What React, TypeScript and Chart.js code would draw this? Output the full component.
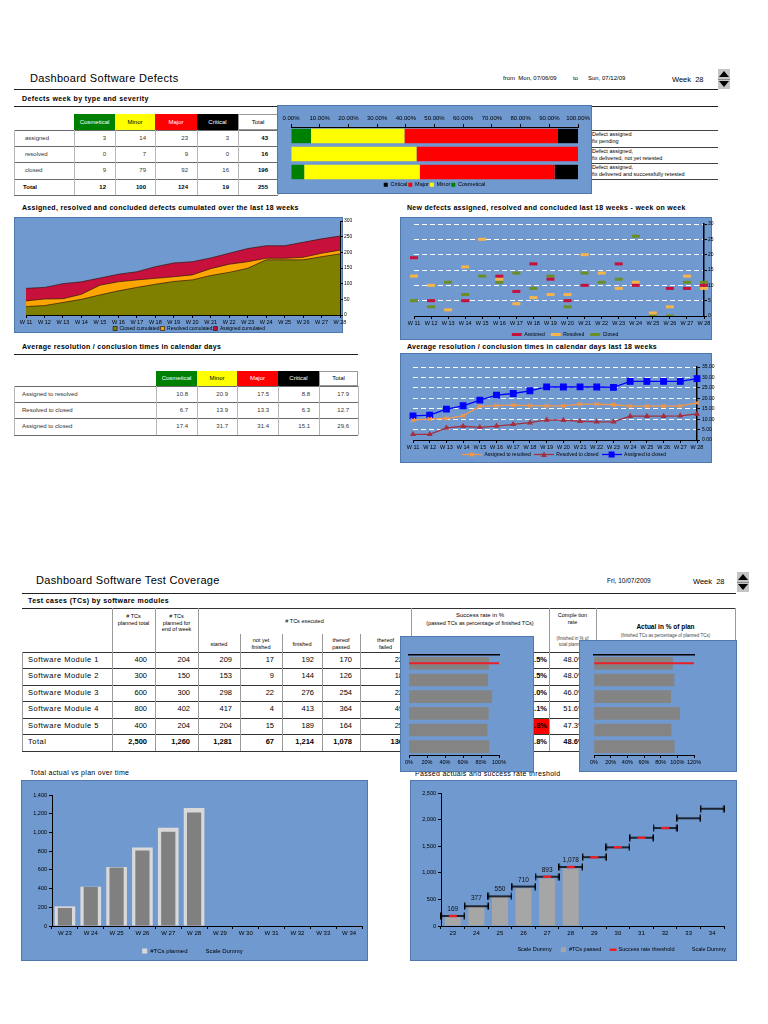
import React, { useEffect, useRef } from 'react';
import { Chart, registerables } from 'chart.js';

Chart.register(...registerables);

const FONT = "'Liberation Sans', Arial, Helvetica, sans-serif";
Chart.defaults.font.family = FONT;
Chart.defaults.color = '#000';

// ---------------- DATA ----------------
const severities = ['Cosmetical', 'Minor', 'Major', 'Critical'];
const severityColors = ['#008000', '#ffff00', '#ff0000', '#000000'];
const severityTextColors = ['#ffffff', '#000000', '#ffffff', '#ffffff'];
const defectStates = ['assigned', 'resolved', 'closed'];
const assignedBySeverity = [3, 14, 23, 3];
const resolvedBySeverity = [0, 7, 9, 0];
const closedBySeverity = [9, 79, 92, 16];
const stateDescriptions = [
  ['Defect assigned', 'fix pending'],
  ['Defect assigned,', 'fix delivered, not yet retested'],
  ['Defect assigned,', 'fix delivered and successfully retested'],
];

const weekLabels = ['W 11', 'W 12', 'W 13', 'W 14', 'W 15', 'W 16', 'W 17', 'W 18', 'W 19', 'W 20', 'W 21', 'W 22', 'W 23', 'W 24', 'W 25', 'W 26', 'W 27', 'W 28'];
const closedCumulated = [27, 30, 40, 50, 64, 77, 88, 98, 107, 112, 126, 136, 149, 176, 176, 176, 186, 195];
const resolvedCumulated = [45, 51, 52, 66, 95, 106, 112, 117, 122, 128, 148, 162, 170, 181, 181, 184, 197, 207];
const assignedCumulated = [85, 88, 100, 106, 118, 130, 138, 154, 166, 170, 182, 197, 212, 221, 221, 232, 243, 252];

const newAssigned = [19, 5, null, 5, null, 13, 8, 17, 12, 5, 10, null, 17, 10, null, 9, 9, 10];
const newResolved = [13, 10, 2, 16, 25, 12, 4, 6, 7, 7, 20, 14, 9, 11, 1, 3, 13, 9];
const newClosed = [5, 3, 11, 7, 13, 11, 14, 9, 13, 3, 14, 11, 12, 26, 0, 0, 11, 11];

const resolutionRows = ['Assigned to resolved', 'Resolved to closed', 'Assigned to closed'];
const resolutionColumns = ['Cosmetical', 'Minor', 'Major', 'Critical', 'Total'];
const resAssignedToResolved = [10.8, 20.9, 17.5, 8.8, 17.9];
const resResolvedToClosed = [6.7, 13.9, 13.3, 6.3, 12.7];
const resAssignedToClosed = [17.4, 31.7, 31.4, 15.1, 29.6];

const avgAssignedToResolved = [9.5, 10.1, 10.3, 11.6, 16.1, 16.5, 16.7, 16.5, 16.4, 16.4, 17.2, 17.2, 16.9, 16.2, 16.2, 16.2, 16.2, 17.8];
const avgResolvedToClosed = [2.7, 2.7, 5.8, 6.6, 6.1, 6.7, 7.5, 8.3, 9.6, 9.5, 9.0, 8.7, 8.7, 11.4, 11.4, 11.4, 11.6, 12.5];
const avgAssignedToClosed = [11.6, 11.9, 14.8, 16.4, 19.1, 21.5, 22.3, 23.6, 25.5, 25.4, 25.5, 25.4, 25.2, 28.1, 28.1, 28.1, 28.1, 29.4];

const moduleNames = ['Software Module 1', 'Software Module 2', 'Software Module 3', 'Software Module 4', 'Software Module 5', 'Total'];
const tcPlannedTotal = [400, 300, 600, 800, 400, 2500];
const tcPlannedEndOfWeek = [204, 150, 300, 402, 204, 1260];
const tcStarted = [209, 153, 298, 417, 204, 1281];
const tcNotFinished = [17, 9, 22, 4, 15, 67];
const tcFinished = [192, 144, 276, 413, 189, 1214];
const tcPassed = [170, 126, 254, 364, 164, 1078];
const tcFailed = [22, 18, 22, 49, 25, 136];
const successRate = [88.5, 87.5, 92.0, 88.1, 86.8, 88.8];
const completionRate = [48.0, 48.0, 46.0, 51.6, 47.3, 48.6];
const actualPctOfPlan = [94.1, 96.0, 92.0, 102.7, 92.6, 96.3];
const belowThresholdRow = [false, false, false, false, true, false];
const successAxisMax = 100;
const actualAxisMax = 120;

const planWeeks = ['W 23', 'W 24', 'W 25', 'W 26', 'W 27', 'W 28', 'W 29', 'W 30', 'W 31', 'W 32', 'W 33', 'W 34'];
const plannedCumulated = [210, 420, 630, 840, 1050, 1260, null, null, null, null, null, null];
const finishedCumulated = [193, 418, 625, 807, 1007, 1214, null, null, null, null, null, null];

const passWeeks = ['23', '24', '25', '26', '27', '28', '29', '30', '31', '32', '33', '34'];
const passedCumulated = [169, 377, 550, 710, 893, 1078, 0, 0, 0, 0, 0, 0];
const passTargetLevels = [188, 372, 558, 742, 926, 1110, 1294, 1478, 1660, 1842, 2025, 2205];
const thresholdMarks = [188, null, null, null, 926, 1110, 1294, 1478, 1660, 1842, null, null];

// ---------------- STYLE ----------------
const BLUE = '#7099cf';
const BLUE_BORDER = '#4f78ad';

const fmt = (v: number) => v.toLocaleString('en-US');
const sum = (a: number[]) => a.reduce((s, v) => s + v, 0);

function ChartCanvas({ x, y, w, h, make }: any) {
  const ref = useRef<HTMLCanvasElement | null>(null);
  useEffect(() => {
    if (!ref.current) return;
    const chart = new Chart(ref.current, make());
    return () => chart.destroy();
  }, []);
  return (
    <div style={{ position: 'absolute', left: x, top: y, width: w, height: h }}>
      <canvas ref={ref} width={w} height={h} style={{ width: w, height: h, display: 'block' }} />
    </div>
  );
}

function T({ x, y, s = 6, b = false, c = '#000', ls = 0, children }: any) {
  return (
    <div style={{ position: 'absolute', left: x, top: y - s * 0.6, fontSize: s, lineHeight: `${s * 1.2}px`, fontWeight: b ? 'bold' : 'normal', color: c, whiteSpace: 'nowrap', letterSpacing: ls }}>
      {children}
    </div>
  );
}

function Cell({ x1, x2, y1, y2, align = 'center', pad = 0, s = 6, b = false, c = '#000', bg, border, lh = 1.15, ls = 0, children }: any) {
  return (
    <div style={{
      position: 'absolute', left: x1, top: y1, width: x2 - x1, height: y2 - y1, background: bg, border,
      boxSizing: 'border-box', display: 'flex', alignItems: 'center',
      justifyContent: align === 'left' ? 'flex-start' : align === 'right' ? 'flex-end' : 'center',
      paddingLeft: align === 'left' ? pad : 0, paddingRight: align === 'right' ? pad : 0,
      fontSize: s, fontWeight: b ? 'bold' : 'normal', color: c, whiteSpace: 'nowrap', lineHeight: lh,
      textAlign: align as any, letterSpacing: ls,
    }}>
      <div>{children}</div>
    </div>
  );
}

function HL({ x1, x2, y, c = '#000', t = 1 }: any) {
  return <div style={{ position: 'absolute', left: x1, top: y - t / 2, width: x2 - x1, height: t, background: c }} />;
}
function VL({ x, y1, y2, c = '#000', t = 1 }: any) {
  return <div style={{ position: 'absolute', left: x - t / 2, top: y1, width: t, height: y2 - y1, background: c }} />;
}
function Panel({ x, y, w, h }: any) {
  return <div style={{ position: 'absolute', left: x, top: y, width: w, height: h, background: BLUE, border: `1px solid ${BLUE_BORDER}`, boxSizing: 'border-box' }} />;
}
function Spinner({ x, y }: any) {
  return (
    <div style={{ position: 'absolute', left: x, top: y, width: 12, height: 20, background: '#c4c4c4' }}>
      <div style={{ position: 'absolute', left: 1, top: 2, width: 0, height: 0, borderLeft: '5px solid transparent', borderRight: '5px solid transparent', borderBottom: '6px solid #000' }} />
      <div style={{ position: 'absolute', left: 0, top: 9.5, width: 12, height: 1, background: '#888' }} />
      <div style={{ position: 'absolute', left: 1, top: 12, width: 0, height: 0, borderLeft: '5px solid transparent', borderRight: '5px solid transparent', borderTop: '6px solid #000' }} />
    </div>
  );
}

const smallAxis = { drawOnChartArea: false, tickLength: 3, tickColor: '#000' };
const blackBorder = { color: '#000', width: 1 };
const dashedGrid = {
  color: (c: any) => (c.tick && c.tick.value === 0 ? 'rgba(0,0,0,0)' : '#ffffff'),
  tickColor: '#000', tickLength: 3, lineWidth: 1,
};

// legend swatch: short line with a marker in the middle
function lineMarkerSwatch(color: string, marker: string) {
  const c = document.createElement('canvas');
  c.width = 20; c.height = 7;
  const g = c.getContext('2d')!;
  g.strokeStyle = color; g.fillStyle = color; g.lineWidth = 1.3;
  g.beginPath(); g.moveTo(0, 3.5); g.lineTo(20, 3.5); g.stroke();
  g.beginPath();
  if (marker === 'rect') { g.fillRect(7, 0.5, 6, 6); }
  else if (marker === 'triangle') { g.moveTo(10, 0.5); g.lineTo(13, 6); g.lineTo(7, 6); g.closePath(); g.fill(); }
  else { g.moveTo(8, 1.5); g.lineTo(12, 5.5); g.moveTo(12, 1.5); g.lineTo(8, 5.5); g.stroke(); }
  return c;
}

// ---------------- CHART CONFIGS ----------------
function makeSeverityShare() {
  const rows = [assignedBySeverity, resolvedBySeverity, closedBySeverity];
  const totals = rows.map(sum);
  return {
    type: 'bar',
    data: {
      labels: defectStates,
      datasets: severities.map((s, k) => ({
        label: s,
        data: rows.map((r, i) => (r[k] / totals[i]) * 100),
        backgroundColor: severityColors[k],
        borderWidth: 0,
        barPercentage: 0.8,
        categoryPercentage: 1,
      })),
    },
    options: {
      indexAxis: 'y', responsive: false, animation: false,
      layout: { padding: { left: 14, right: 14, top: 0, bottom: 5 } },
      scales: {
        x: {
          stacked: true, position: 'top', min: 0, max: 100,
          ticks: { stepSize: 10, autoSkip: false, maxRotation: 0, padding: 2, font: { size: 6 }, color: '#000', callback: (v: any) => Number(v).toFixed(2) + '%' },
          grid: smallAxis, border: blackBorder,
          afterFit: (s: any) => { s.height = 22; },
        },
        y: { stacked: true, display: false },
      },
      plugins: {
        legend: { position: 'bottom', reverse: true, maxHeight: 8, labels: { boxWidth: 4, boxHeight: 4, padding: 1, font: { size: 5.5 }, color: '#000' } },
        tooltip: { enabled: false },
      },
    },
  };
}

function makeCumulated() {
  const ds = (label: string, data: number[], color: string) => ({
    label, data, fill: 'origin', backgroundColor: color, borderColor: '#2b1a12', borderWidth: 0.7, pointRadius: 0, tension: 0,
  });
  return {
    type: 'line',
    data: {
      labels: weekLabels,
      datasets: [
        ds('Closed cumulated', closedCumulated, '#808000'),
        ds('Resolved cumulated', resolvedCumulated, '#ffa500'),
        ds('Assigned cumulated', assignedCumulated, '#c8103c'),
      ],
    },
    options: {
      responsive: false, animation: false,
      layout: { padding: { left: 12, right: 4, top: 4, bottom: 1 } },
      scales: {
        x: { ticks: { autoSkip: false, maxRotation: 0, padding: 1, font: { size: 5.5 } }, grid: smallAxis, border: blackBorder, afterFit: (s: any) => { s.height = 10; } },
        y: { position: 'right', min: 0, max: 300, ticks: { stepSize: 50, padding: 1, font: { size: 5 } }, grid: smallAxis, border: blackBorder, afterFit: (s: any) => { s.width = 12; } },
      },
      plugins: {
        legend: { position: 'bottom', maxHeight: 7, labels: { boxWidth: 4, boxHeight: 4, padding: 1, font: { size: 5 } } },
        tooltip: { enabled: false },
      },
    },
  };
}

function makeWeekOnWeek() {
  const ds = (label: string, data: any[], color: string) => ({
    label, data, showLine: false, pointStyle: 'line', pointRadius: 4, pointHoverRadius: 4,
    pointBorderWidth: 3, pointBorderColor: color, borderColor: color, backgroundColor: color, borderWidth: 2,
  });
  return {
    type: 'line',
    data: {
      labels: weekLabels,
      datasets: [ds('Assigned', newAssigned, '#c8103c'), ds('Resolved', newResolved, '#f7b449'), ds('Closed', newClosed, '#6b8e23')],
    },
    options: {
      responsive: false, animation: false,
      layout: { padding: { left: 14, right: 4, top: 6, bottom: 4 } },
      scales: {
        x: { ticks: { autoSkip: false, maxRotation: 0, padding: 1, font: { size: 5.5 } }, grid: smallAxis, border: blackBorder, afterFit: (s: any) => { s.height = 10; } },
        y: {
          position: 'right', min: 0, max: 30, ticks: { stepSize: 5, padding: 1, font: { size: 5 } },
          grid: dashedGrid, border: { color: '#000', width: 1.5, dash: [5, 3] },
          afterFit: (s: any) => { s.width = 12; },
        },
      },
      plugins: {
        legend: { position: 'bottom', maxHeight: 10, labels: { usePointStyle: true, pointStyleWidth: 10, boxHeight: 5, padding: 6, font: { size: 5 } } },
        tooltip: { enabled: false },
      },
    },
  };
}

function makeAverageTimes() {
  const ds = (label: string, data: number[], color: string, style: string, r: number) => ({
    label, data, borderColor: color, backgroundColor: color, borderWidth: 1.3,
    pointStyle: style, pointRadius: r, pointBorderColor: color, pointBackgroundColor: color, pointBorderWidth: 1.2, tension: 0,
  });
  const swatches = [lineMarkerSwatch('#f79646', 'cross'), lineMarkerSwatch('#a3303f', 'triangle'), lineMarkerSwatch('#0000ff', 'rect')];
  return {
    type: 'line',
    data: {
      labels: weekLabels,
      datasets: [
        ds('Assigned to resolved', avgAssignedToResolved, '#f79646', 'crossRot', 2.8),
        ds('Resolved to closed', avgResolvedToClosed, '#a3303f', 'triangle', 2.3),
        ds('Assigned to closed', avgAssignedToClosed, '#0000ff', 'rect', 4),
      ],
    },
    options: {
      responsive: false, animation: false,
      layout: { padding: { left: 13, right: 7, top: 14, bottom: 4 } },
      scales: {
        x: { ticks: { autoSkip: false, maxRotation: 0, padding: 1, font: { size: 5.5 } }, grid: smallAxis, border: blackBorder, afterFit: (s: any) => { s.height = 9; } },
        y: {
          position: 'right', min: 0, max: 35, ticks: { stepSize: 5, padding: 2, font: { size: 5 }, callback: (v: any) => Number(v).toFixed(2) },
          grid: dashedGrid, border: { color: '#000', width: 1.5, dash: [5, 3] },
          afterFit: (s: any) => { s.width = 18; },
        },
      },
      plugins: {
        legend: {
          position: 'bottom', maxHeight: 10,
          labels: {
            usePointStyle: true, pointStyleWidth: 20, boxHeight: 5, padding: 3, font: { size: 5 },
            generateLabels: (chart: any) => {
              const items = (Chart.defaults.plugins.legend.labels as any).generateLabels(chart);
              return items.map((it: any) => ({ ...it, pointStyle: swatches[it.datasetIndex] }));
            },
          },
        },
        tooltip: { enabled: false },
      },
    },
  };
}

function makeRateBars(values: number[], axisMax: number, pad: any) {
  return {
    type: 'bar',
    data: {
      labels: moduleNames,
      datasets: [
        { label: 'threshold', data: moduleNames.map((_, i) => (i === 0 ? [0, axisMax] : null)), backgroundColor: '#e8202a', barThickness: 1.3, grouped: false },
        { label: 'rate', data: values, backgroundColor: '#848484', barThickness: 12, grouped: false },
      ],
    },
    options: {
      indexAxis: 'y', responsive: false, animation: false,
      layout: { padding: pad },
      scales: {
        x: {
          type: 'linear', position: 'bottom', min: 0, max: axisMax,
          ticks: { stepSize: 20, padding: 1, font: { size: 5.5 }, maxRotation: 0, autoSkip: false, callback: (v: any) => v + '%' },
          grid: smallAxis, border: blackBorder, afterFit: (s: any) => { s.height = 12; },
        },
        x2: {
          type: 'linear', position: 'top', min: 0, max: axisMax,
          ticks: { display: false }, grid: { display: false }, border: { color: '#000', width: 1.5 },
          afterFit: (s: any) => { s.height = 0; },
        },
        y: { display: false },
      },
      plugins: { legend: { display: false }, tooltip: { enabled: false } },
    },
  };
}

function makePlanOverTime() {
  return {
    type: 'bar',
    data: {
      labels: planWeeks,
      datasets: [
        { label: '#TCs finished', data: finishedCumulated, backgroundColor: '#808080', barPercentage: 0.55, categoryPercentage: 1, grouped: false, order: 0 },
        { label: '#TCs planned', data: plannedCumulated, backgroundColor: '#d9d9d9', barPercentage: 0.8, categoryPercentage: 1, grouped: false, order: 1 },
        { label: 'Scale Dummy', data: planWeeks.map(() => null), backgroundColor: 'rgba(0,0,0,0)', borderColor: 'rgba(0,0,0,0)', borderWidth: 0, grouped: false, order: 2 },
      ],
    },
    options: {
      responsive: false, animation: false,
      layout: { padding: { left: 2, right: 6, top: 15, bottom: 3 } },
      scales: {
        x: { ticks: { autoSkip: false, maxRotation: 0, padding: 1, font: { size: 6 } }, grid: { ...smallAxis, offset: true }, border: blackBorder, afterFit: (s: any) => { s.height = 12; } },
        y: { min: 0, max: 1400, ticks: { stepSize: 200, padding: 2, font: { size: 5.5 }, callback: (v: any) => fmt(Number(v)) }, grid: smallAxis, border: blackBorder, afterFit: (s: any) => { s.width = 29; } },
      },
      plugins: {
        legend: {
          position: 'bottom', maxHeight: 20,
          labels: { boxWidth: 5, boxHeight: 5, padding: 10, font: { size: 6 }, filter: (it: any) => it.datasetIndex !== 0 },
        },
        tooltip: { enabled: false },
      },
    },
  };
}

function makePassedVsThreshold() {
  const cap = document.createElement('canvas');
  cap.width = 25; cap.height = 8;
  const g = cap.getContext('2d')!;
  g.strokeStyle = '#000'; g.lineWidth = 1.5;
  g.beginPath();
  g.moveTo(0.75, 4); g.lineTo(24.25, 4);
  g.moveTo(0.75, 0.5); g.lineTo(0.75, 7.5);
  g.moveTo(24.25, 0.5); g.lineTo(24.25, 7.5);
  g.stroke();

  const labelPlugin = {
    id: 'passedLabels',
    afterDatasetsDraw(chart: any) {
      const meta = chart.getDatasetMeta(2);
      const ctx = chart.ctx;
      ctx.save();
      ctx.font = `6.5px ${FONT}`;
      ctx.fillStyle = '#111';
      ctx.textAlign = 'center';
      ctx.textBaseline = 'middle';
      meta.data.forEach((el: any, i: number) => {
        const v = passedCumulated[i];
        if (v > 0) ctx.fillText(fmt(v), el.x, el.y - 8);
      });
      ctx.restore();
    },
  };
  const rank = [2, 0, 1, 3];
  return {
    type: 'bar',
    data: {
      labels: passWeeks,
      datasets: [
        { type: 'line', label: 'Success rate threshold', data: thresholdMarks, showLine: false, pointStyle: 'line', pointRadius: 4, pointBorderWidth: 2.5, pointBorderColor: '#e8202a', borderColor: '#e8202a', backgroundColor: '#e8202a', borderWidth: 2.5 },
        { type: 'line', label: 'Scale Dummy', data: passTargetLevels, showLine: false, pointStyle: cap, pointRadius: 12, borderColor: '#000', backgroundColor: '#000' },
        { type: 'bar', label: '#TCs passed', data: passedCumulated, backgroundColor: '#a6a6a6', barPercentage: 0.68, categoryPercentage: 1 },
        { type: 'line', label: 'Scale Dummy', data: passWeeks.map(() => null), showLine: false, pointRadius: 0, borderColor: 'rgba(0,0,0,0)', backgroundColor: 'rgba(0,0,0,0)' },
      ],
    },
    options: {
      responsive: false, animation: false,
      layout: { padding: { left: 2, right: 2, top: 9, bottom: 3 } },
      scales: {
        x: { offset: true, ticks: { autoSkip: false, maxRotation: 0, padding: 1, font: { size: 6 } }, grid: { ...smallAxis, offset: true }, border: blackBorder, afterFit: (s: any) => { s.height = 12; } },
        y: { min: 0, max: 2500, ticks: { stepSize: 500, padding: 2, font: { size: 5.5 }, callback: (v: any) => fmt(Number(v)) }, grid: smallAxis, border: blackBorder, afterFit: (s: any) => { s.width = 29; } },
      },
      plugins: {
        legend: {
          position: 'bottom', align: 'end', maxHeight: 20,
          labels: {
            usePointStyle: true, boxHeight: 5, padding: 9, font: { size: 5.5 },
            sort: (a: any, b: any) => rank[a.datasetIndex] - rank[b.datasetIndex],
            generateLabels: (chart: any) => {
              const items = (Chart.defaults.plugins.legend.labels as any).generateLabels(chart);
              return items.map((it: any) => {
                if (it.text === 'Scale Dummy') return { ...it, pointStyle: 'rect', fillStyle: 'rgba(0,0,0,0)', strokeStyle: 'rgba(0,0,0,0)', lineWidth: 0 };
                if (it.text === '#TCs passed') return { ...it, pointStyle: 'rect', lineWidth: 0 };
                return { ...it, pointStyle: 'line', strokeStyle: '#e8202a', lineWidth: 2.5 };
              });
            },
          },
        },
        tooltip: { enabled: false },
      },
    },
    plugins: [labelPlugin],
  };
}

// ---------------- TABLES ----------------
function DefectTable() {
  const cols = [14, 74, 115, 155, 197, 238, 278];
  const rowsY = [130, 146, 162, 179, 195];
  const rows = [assignedBySeverity, resolvedBySeverity, closedBySeverity];
  const colTotals = severities.map((_, k) => sum(rows.map((r) => r[k])));
  const els: any[] = [];
  severities.forEach((s, k) => {
    els.push(<Cell key={'h' + k} x1={cols[k + 1]} x2={cols[k + 2]} y1={114} y2={130} bg={severityColors[k]} c={severityTextColors[k]} s={6}>{s}</Cell>);
  });
  els.push(<Cell key="ht" x1={cols[5]} x2={cols[6]} y1={114} y2={130} border="1px solid #999" s={6}>Total</Cell>);
  rows.forEach((r, i) => {
    els.push(<Cell key={'l' + i} x1={cols[0]} x2={cols[1]} y1={rowsY[i]} y2={rowsY[i + 1]} align="left" pad={11} s={6} c="#333">{defectStates[i]}</Cell>);
    r.forEach((v, k) => els.push(<Cell key={'v' + i + k} x1={cols[k + 1]} x2={cols[k + 2]} y1={rowsY[i]} y2={rowsY[i + 1]} align="right" pad={9} s={6} c="#333">{v}</Cell>));
    els.push(<Cell key={'t' + i} x1={cols[5]} x2={cols[6]} y1={rowsY[i]} y2={rowsY[i + 1]} align="right" pad={10} s={6} b>{sum(r)}</Cell>);
  });
  els.push(<Cell key="tl" x1={cols[0]} x2={cols[1]} y1={rowsY[3]} y2={rowsY[4]} align="left" pad={9} s={6} b>Total</Cell>);
  colTotals.forEach((v, k) => els.push(<Cell key={'tt' + k} x1={cols[k + 1]} x2={cols[k + 2]} y1={rowsY[3]} y2={rowsY[4]} align="right" pad={9} s={6} b>{v}</Cell>));
  els.push(<Cell key="ttt" x1={cols[5]} x2={cols[6]} y1={rowsY[3]} y2={rowsY[4]} align="right" pad={10} s={6} b>{sum(colTotals)}</Cell>);
  rowsY.forEach((y, i) => els.push(<HL key={'hl' + i} x1={14} x2={278} y={y} c="#6a6a6a" />));
  cols.forEach((x, i) => els.push(<VL key={'vl' + i} x={x} y1={130} y2={195} c="#b5b5b5" />));
  return <>{els}</>;
}

function ResolutionTable() {
  const cols = [14, 156, 197, 237, 278, 319, 358];
  const rowsY = [386, 402, 418, 435];
  const data = [resAssignedToResolved, resResolvedToClosed, resAssignedToClosed];
  const els: any[] = [];
  resolutionColumns.forEach((s, k) => {
    const isTotal = k === 4;
    els.push(<Cell key={'h' + k} x1={cols[k + 1]} x2={cols[k + 2]} y1={371} y2={386} bg={isTotal ? '#fff' : severityColors[k]} c={isTotal ? '#000' : severityTextColors[k]} border={isTotal ? '1px solid #999' : undefined} s={6}>{s}</Cell>);
  });
  data.forEach((r, i) => {
    els.push(<Cell key={'l' + i} x1={cols[0]} x2={cols[1]} y1={rowsY[i]} y2={rowsY[i + 1]} align="left" pad={8} s={6} c="#333">{resolutionRows[i]}</Cell>);
    r.forEach((v, k) => els.push(<Cell key={'v' + i + k} x1={cols[k + 1]} x2={cols[k + 2]} y1={rowsY[i]} y2={rowsY[i + 1]} align="right" pad={9} s={6} c="#333">{v.toFixed(1)}</Cell>));
  });
  rowsY.forEach((y, i) => els.push(<HL key={'hl' + i} x1={14} x2={358} y={y} c="#6a6a6a" />));
  cols.forEach((x, i) => els.push(<VL key={'vl' + i} x={x} y1={386} y2={435} c="#b5b5b5" />));
  return <>{els}</>;
}

function CoverageTable() {
  const cols = [22, 112, 155, 198, 240, 282, 322, 360, 411, 549, 596, 735];
  const rowsY = [652, 668.5, 685, 701.5, 718, 734.5, 751];
  const numeric = [tcPlannedTotal, tcPlannedEndOfWeek, tcStarted, tcNotFinished, tcFinished, tcPassed, tcFailed];
  const els: any[] = [];
  const hs = 5.5;
  els.push(<Cell key="h1" x1={112} x2={155} y1={610} y2={630} s={hs} lh={1.2}>#&nbsp;TCs<br />planned total</Cell>);
  els.push(<Cell key="h2" x1={155} x2={198} y1={610} y2={636} s={hs} lh={1.2}>#&nbsp;TCs<br />planned for<br />end of week</Cell>);
  els.push(<Cell key="h3" x1={198} x2={411} y1={612} y2={630} s={hs}># TCs executed</Cell>);
  const subs = [['started'], ['not yet', 'finished'], ['finished'], ['thereof', 'passed'], ['thereof', 'failed']];
  subs.forEach((lines, k) => {
    els.push(<Cell key={'sh' + k} x1={cols[k + 3]} x2={cols[k + 4]} y1={636} y2={652} s={hs} lh={1.2}>{lines.length === 1 ? lines[0] : <>{lines[0]}<br />{lines[1]}</>}</Cell>);
  });
  els.push(<Cell key="h4" x1={411} x2={549} y1={612} y2={628} s={6} lh={1.3}>Success rate in %<br /><span style={{ fontSize: 5.5 }}>(passed TCs as percentage of finished TCs)</span></Cell>);
  els.push(<Cell key="h5" x1={549} x2={596} y1={610} y2={628} s={5.5} lh={1.2}>Comple tion<br />rate</Cell>);
  els.push(<Cell key="h5b" x1={549} x2={596} y1={634} y2={650} s={4.5} c="#444" lh={1.3}>(finished in % of<br />total planned)</Cell>);
  els.push(<Cell key="h6" x1={596} x2={735} y1={622} y2={640} s={6.5} b lh={1.2}>Actual in % of plan<br /><span style={{ fontSize: 4.5, fontWeight: 'normal', color: '#444' }}>(finished TCs as percentage of planned TCs)</span></Cell>);

  moduleNames.forEach((m, i) => {
    const isTotal = i === moduleNames.length - 1;
    const y1 = rowsY[i], y2 = rowsY[i + 1];
    els.push(<Cell key={'m' + i} x1={22} x2={112} y1={y1} y2={y2} align="left" pad={6} s={7.5} ls={0.5}>{m}</Cell>);
    numeric.forEach((arr, k) => {
      els.push(<Cell key={'n' + i + '_' + k} x1={cols[k + 1]} x2={cols[k + 2]} y1={y1} y2={y2} align="right" pad={8} s={7.5} b={isTotal}>{fmt(arr[i])}</Cell>);
    });
    els.push(<Cell key={'sr' + i} x1={411} x2={549} y1={y1 + 0.5} y2={y2 - 0.5} align="right" pad={2} s={7.5} b bg={belowThresholdRow[i] ? '#ff0000' : undefined}>{successRate[i].toFixed(1)}%</Cell>);
    els.push(<Cell key={'cr' + i} x1={552} x2={596} y1={y1} y2={y2} s={7.5} b={isTotal}>{completionRate[i].toFixed(1)}%</Cell>);
  });
  els.push(<HL key="top" x1={112} x2={735} y={608.5} c="#333" />);
  rowsY.forEach((y, i) => els.push(<HL key={'hl' + i} x1={22} x2={735} y={y} c="#333" />));
  [112, 155, 198, 411, 549, 596, 735].forEach((x, i) => els.push(<VL key={'va' + i} x={x} y1={608} y2={751} c="#9a9a9a" />));
  [240, 282, 322, 360].forEach((x, i) => els.push(<VL key={'vb' + i} x={x} y1={634} y2={751} c="#9a9a9a" />));
  els.push(<VL key="vl0" x={22} y1={652} y2={751} c="#9a9a9a" />);
  return <>{els}</>;
}

// ---------------- APP ----------------
export default function App() {
  return (
    <div style={{ position: 'absolute', left: 0, top: 0, width: 768, height: 1024, background: '#fff', fontFamily: FONT, overflow: 'hidden' }}>
      {/* Section 1 header */}
      <T x={30} y={79} s={11} ls={0.3}>Dashboard Software Defects</T>
      <T x={503} y={79} s={6}>from&nbsp;&nbsp;Mon, 07/06/09</T>
      <T x={573} y={79} s={6}>to</T>
      <T x={588} y={79} s={6}>Sun, 07/12/09</T>
      <T x={672} y={79} s={7.5}>Week&nbsp;&nbsp;28</T>
      <Spinner x={718} y={69} />
      <HL x1={14} x2={718} y={89} c="#222" />
      <T x={22} y={99} s={7} b ls={0.4}>Defects week by type and severity</T>
      <HL x1={14} x2={718} y={106.5} c="#222" />

      <DefectTable />

      <Panel x={277} y={105} w={315} h={89} />
      <ChartCanvas x={277} y={105} w={315} h={89} make={makeSeverityShare} />
      {[130, 147, 163, 179].map((y, i) => <HL key={'d' + i} x1={592} x2={718} y={y} c="#444" />)}
      {stateDescriptions.map((d, i) => (
        <React.Fragment key={'sd' + i}>
          <T x={592} y={[134, 151, 167][i]} s={5.5}>{d[0]}</T>
          <T x={592} y={[141, 158, 174][i]} s={5.5}>{d[1]}</T>
        </React.Fragment>
      ))}

      <T x={22} y={208} s={7} b ls={0.3}>Assigned, resolved and concluded defects cumulated over the last 18 weeks</T>
      <Panel x={14} y={217} w={329} h={116} />
      <ChartCanvas x={14} y={217} w={342} h={116} make={makeCumulated} />

      <T x={407} y={208} s={7} b ls={0.3}>New defects assigned, resolved and concluded last 18 weeks - week on week</T>
      <Panel x={400} y={217} w={312} h={123} />
      <ChartCanvas x={400} y={217} w={320} h={123} make={makeWeekOnWeek} />

      <T x={22} y={347} s={7} b ls={0.3}>Average resolution / conclusion times in calendar days</T>
      <HL x1={14} x2={358} y={354} c="#222" />
      <ResolutionTable />

      <T x={407} y={347} s={7} b ls={0.3}>Average resolution / conclusion times in calendar days last 18 weeks</T>
      <Panel x={400} y={353} w={312} h={110} />
      <ChartCanvas x={400} y={353} w={322} h={110} make={makeAverageTimes} />

      {/* Section 2 */}
      <T x={36} y={581} s={11} ls={0.3}>Dashboard Software Test Coverage</T>
      <T x={607} y={581} s={6.5}>Fri, 10/07/2009</T>
      <T x={693} y={581} s={7.5}>Week&nbsp;&nbsp;28</T>
      <Spinner x={737} y={572} />
      <HL x1={22} x2={736} y={593} c="#222" />
      <T x={28} y={601} s={7} b ls={0.4}>Test cases (TCs) by software modules</T>
      <HL x1={22} x2={736} y={608} c="#222" />

      <CoverageTable />

      <T x={30} y={773} s={7} ls={0.3}>Total actual vs plan over time</T>
      <T x={415} y={774} s={7} ls={0.3}>Passed actuals and success rate threshold</T>

      <Panel x={400} y={636} w={134} h={136} />
      <ChartCanvas x={400} y={636} w={134} h={136} make={() => makeRateBars(successRate, successAxisMax, { left: 9, right: 35, top: 19, bottom: 5 })} />
      <Panel x={579} y={640} w={158} h={132} />
      <ChartCanvas x={579} y={640} w={158} h={132} make={() => makeRateBars(actualPctOfPlan, actualAxisMax, { left: 15, right: 43, top: 15, bottom: 5 })} />

      <Panel x={21} y={780} w={347} h={181} />
      <ChartCanvas x={21} y={780} w={347} h={181} make={makePlanOverTime} />

      <Panel x={410} y={780} w={327} h={181} />
      <ChartCanvas x={410} y={780} w={327} h={181} make={makePassedVsThreshold} />
    </div>
  );
}
